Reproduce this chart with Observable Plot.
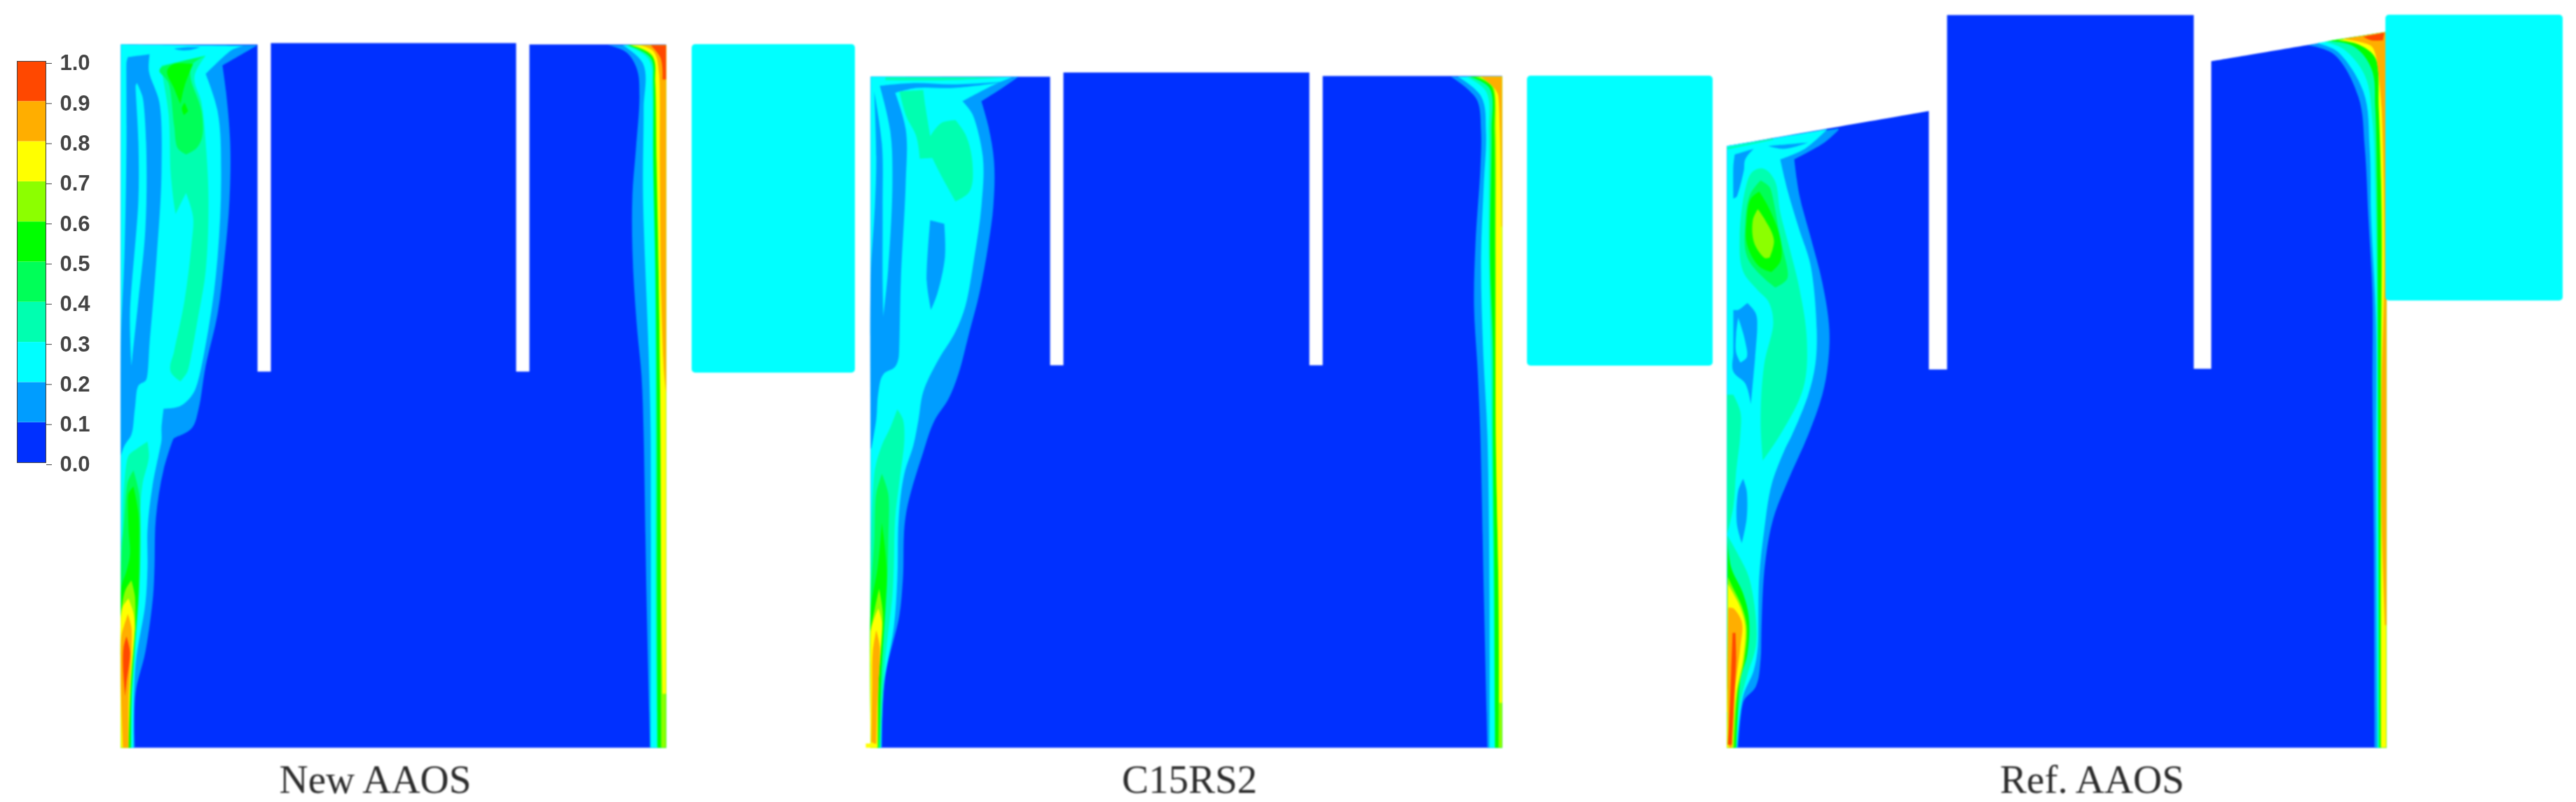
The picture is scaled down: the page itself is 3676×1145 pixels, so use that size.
<!DOCTYPE html>
<html>
<head>
<meta charset="utf-8">
<script src="https://cdn.jsdelivr.net/npm/d3@7"></script>
<script src="https://cdn.jsdelivr.net/npm/@observablehq/plot@0.6"></script>
<style>
html,body{margin:0;padding:0;background:#fff;overflow:hidden}
#chart{position:relative;width:3676px;height:1145px}
#chart svg{position:absolute;left:0;top:0;display:block;max-width:none}
</style>
</head>
<body>
<div id="chart"></div>
<script>
// Legend
const thresholds = [0.1,0.2,0.3,0.4,0.5,0.6,0.7,0.8,0.9];
const bandColors = ["#0030ff","#009dff","#00ffff","#00ffb0","#00ff58","#00ff00","#8cff00","#ffff00","#ffae00","#ff4800"];
const legendTicks = [0,0.1,0.2,0.3,0.4,0.5,0.6,0.7,0.8,0.9,1];

// Captions
const captions = ["New AAOS","C15RS2","Ref. AAOS"];
const captionX = [535,1697,2985];
const captionY = [1130,1130,1130];

// Nozzle / plenum blocks drawn beside each wall: [x1,x2,y1,y2]
const plenum = [[987,1220,63,532],[2179,2444,108,522],[3404,3657,21,429]];

// Each contour is [band value, [x,y, ...]]
const panel1 = [
 [0.05,[172,63,367,63,367,530,386,530,386,61,736,61,736,530,755,530,755,63,950,63,950,1067,172,1067]],
 [0.15,[367,64,317,93,322,130,328,203,327,285,320,367,310,448,293,522,283,583,273,611,250,624,247,626,233,670,222,739,220,809,218,850,207,930,193,989,192,1067,172,1067,172,63]],
 [0.15,[867,64,893,74,908,97,912,136,907,212,902,277,902,358,908,461,915,537,918,620,922,850,927,1067,950,1067,950,64]],
 [0.25,[172,63,347,65,330,71,293,105,310,158,315,244,310,367,297,469,277,558,257,579,233,583,230,611,230,628,217,694,210,756,210,809,207,861,193,948,190,1067,172,1067]],
 [0.25,[888,64,917,90,918,155,917,270,919,346,925,499,928,620,928,1067,950,1067,950,64]],
 [0.15,[182,81,213,77,212,101,227,146,230,244,223,367,213,489,208,542,197,550,192,583,187,620,177,636,172,650,172,489,177,367,180,203,180,89]],
 [0.15,[248,69,265,67,285,67,270,71,255,71]],
 [0.25,[195,118,203,138,208,203,207,326,197,428,187,522,185,448,197,285,197,203,193,122]],
 [0.35,[230,93,293,79,277,109,287,146,293,203,297,285,293,387,283,448,267,530,257,544,243,530,248,501,263,428,273,346,275,309,265,275,250,305,247,285,243,245,240,162,232,110]],
 [0.35,[210,630,212,652,203,690,199,739,199,809,197,861,190,930,187,1000,187,1067,172,1067,172,780,174,760,176,700,183,650,195,640]],
 [0.35,[892,64,925,84,930,130,931,230,934,384,935,620,935,850,937,1067,950,1067,950,64]],
 [0.45,[230,95,293,79,273,93,272,113,287,158,288,195,280,211,265,220,253,211,248,179,240,118,227,101]],
 [0.45,[190,671,198,704,200,774,198,843,192,930,187,1000,185,1067,172,1067,172,819,173,791,177,739,182,687]],
 [0.55,[238,101,247,91,275,91,263,122,257,148,248,126]],
 [0.55,[263,146,268,158,262,164,259,154]],
 [0.55,[190,694,197,732,198,791,197,850,189,941,186,1067,172,1067,172,850,173,836,180,815,185,791,183,756,183,704]],
 [0.55,[895,64,928,82,932,117,932,231,935,384,937,620,937,850,938,1067,950,1067,950,64]],
 [0.65,[187,828,192,850,192,895,187,965,183,1067,172,1067,172,880,178,843]],
 [0.65,[898,64,930,80,934,117,936,231,940,422,942,620,943,1067,950,1067,950,64]],
 [0.75,[183,854,190,875,192,895,185,982,183,1067,172,1067,172,880,175,865]],
 [0.75,[900,64,930,78,935,117,937,231,940,422,942,620,943,850,945,990,950,990,950,64]],
 [0.85,[182,876,187,895,187,930,183,1000,183,1067,175,1067,172,980,172,920,173,906]],
 [0.85,[913,64,932,73,940,105,941,231,943,422,947,530,950,560,950,64]],
 [0.95,[180,908,185,930,180,975,178,993,175,948,176,923]],
 [0.95,[928,64,950,64,950,113,945,113,942,82]]
];

const panel2 = [
 [0.05,[1242,109,1498,109,1498,521,1517,521,1517,103,1868,103,1868,521,1887,521,1887,108,2143,108,2143,1067,1242,1067]],
 [0.15,[1453,109,1433,123,1400,144,1410,180,1418,230,1417,294,1410,348,1397,419,1383,473,1367,534,1353,569,1333,600,1317,645,1292,736,1288,826,1283,878,1263,965,1258,1067,1242,1067,1242,109]],
 [0.15,[2070,109,2093,126,2108,144,2113,187,2112,241,2105,348,2103,437,2108,526,2112,620,2117,850,2122,1067,2143,1067,2143,109]],
 [0.25,[1242,109,1443,110,1417,121,1373,144,1387,162,1402,223,1400,294,1390,366,1377,437,1363,473,1337,516,1317,559,1310,600,1303,635,1290,676,1282,739,1280,826,1275,895,1260,982,1257,1067,1242,1067]],
 [0.25,[2080,109,2113,137,2120,187,2117,260,2113,366,2116,500,2122,620,2125,850,2125,1067,2143,1067,2143,109]],
 [0.15,[1255,122,1303,118,1360,120,1433,116,1415,119,1360,125,1307,125,1277,132,1292,184,1292,259,1285,401,1282,509,1277,523,1260,534,1253,559,1250,598,1243,640,1242,640,1242,394,1248,294,1250,223,1247,130,1258,205,1259,294,1259,401,1260,451,1267,384,1273,259,1270,187]],
 [0.15,[1327,314,1347,319,1348,366,1337,419,1328,442,1322,401]],
 [0.35,[1263,110,1437,110,1353,114,1263,114]],
 [0.35,[1283,130,1317,128,1320,151,1327,194,1343,175,1363,171,1377,191,1387,230,1383,273,1363,287,1343,251,1330,225,1312,226,1307,194,1293,166]],
 [0.35,[1280,584,1288,598,1290,628,1283,687,1277,739,1275,809,1273,850,1262,950,1256,1067,1242,1067,1242,791,1248,670,1258,635,1270,610]],
 [0.35,[2092,109,2120,130,2124,187,2124,366,2127,500,2128,620,2131,850,2133,1067,2143,1067,2143,109]],
 [0.45,[1258,676,1267,704,1267,774,1265,843,1258,948,1255,1067,1242,1067,1242,850,1247,774,1250,704]],
 [0.55,[1258,746,1265,815,1263,864,1257,965,1253,1067,1242,1067,1242,870,1252,809]],
 [0.55,[2097,109,2125,125,2128,187,2126,366,2130,500,2130,620,2132,850,2133,1067,2143,1067,2143,109]],
 [0.65,[1254,840,1259,871,1259,895,1253,982,1252,1067,1242,1067,1242,900,1248,868]],
 [0.65,[2104,109,2128,123,2132,187,2133,366,2134,620,2138,850,2138,1067,2143,1067,2143,109]],
 [0.75,[1253,868,1258,888,1253,982,1252,1067,1242,1067,1242,900,1248,880]],
 [0.75,[1235,1061,1250,1061,1250,1067,1235,1067]],
 [0.75,[2110,109,2130,122,2134,187,2134,366,2134,620,2138,850,2139,1003,2143,1003,2143,109]],
 [0.85,[1250,899,1255,923,1251,1017,1250,1062,1243,1059,1244,982,1245,930]],
 [0.85,[2113,109,2130,123,2137,134,2140,187,2142,323,2143,323,2143,109]]
];

const panel3 = [
 [0.05,[2464,208,2752,158,2752,527,2778,527,2778,21,3130,21,3130,526,3155,526,3155,87,3405,45,3405,1067,2464,1067]],
 [0.15,[2623,183,2623,185,2603,203,2560,227,2567,277,2583,337,2600,403,2610,470,2608,520,2600,563,2580,620,2550,688,2530,740,2518,807,2513,907,2512,940,2505,980,2488,1000,2480,1067,2464,1067,2464,208]],
 [0.15,[3293,64,3330,77,3365,138,3374,210,3379,306,3385,421,3385,550,3387,774,3388,1067,3405,1067,3405,45]],
 [0.25,[2464,208,2607,184,2575,212,2540,227,2550,270,2567,327,2583,377,2592,470,2590,520,2580,563,2557,620,2547,640,2528,690,2517,757,2510,823,2508,923,2502,957,2487,993,2478,1067,2464,1067]],
 [0.25,[3306,61,3335,73,3372,130,3381,210,3383,306,3390,459,3390,664,3392,1067,3405,1067,3405,45]],
 [0.15,[2523,208,2580,203,2545,212]],
 [0.15,[2475,220,2502,212,2490,227,2488,243,2478,280,2473,283,2473,237]],
 [0.15,[2473,442,2480,442,2493,432,2505,447,2507,470,2498,577,2490,547,2473,530,2473,503]],
 [0.25,[2480,453,2490,487,2492,510,2483,517,2477,503,2477,477]],
 [0.15,[2487,683,2492,700,2492,740,2485,775,2478,747,2480,700]],
 [0.35,[2464,210,2530,197,2530,199,2464,213]],
 [0.35,[2500,245,2515,240,2532,257,2540,303,2553,353,2567,410,2578,487,2573,553,2540,620,2515,657,2512,603,2517,520,2530,460,2523,430,2507,413,2487,387,2482,337,2490,270]],
 [0.35,[2464,563,2473,563,2483,587,2483,620,2477,673,2473,723,2464,763]],
 [0.35,[2464,763,2483,797,2495,823,2505,880,2505,923,2493,963,2482,1007,2477,1067,2464,1067]],
 [0.35,[3317,59,3343,69,3374,107,3385,172,3389,268,3392,459,3393,774,3393,1067,3405,1067,3405,45]],
 [0.45,[2512,257,2525,267,2540,340,2550,397,2533,410,2517,397,2493,367,2490,320,2497,277]],
 [0.55,[2510,273,2522,293,2540,340,2540,373,2527,388,2510,380,2493,350,2492,313,2498,283]],
 [0.55,[2465,773,2470,810,2487,847,2495,880,2493,933,2483,970,2477,1067,2464,1067]],
 [0.55,[3321,58,3357,65,3383,96,3389,153,3392,306,3393,550,3394,800,3395,1067,3405,1067,3405,45]],
 [0.65,[2508,298,2518,313,2531,343,2525,367,2518,368,2503,347,2501,313]],
 [0.65,[2465,823,2473,840,2485,865,2492,893,2489,940,2479,990,2474,1067,2464,1067]],
 [0.75,[2465,833,2473,847,2483,867,2490,893,2487,940,2477,990,2472,1067,2464,1067]],
 [0.75,[3335,57,3365,63,3389,82,3394,153,3398,306,3397,550,3397,1067,3405,1067,3405,45]],
 [0.85,[2466,867,2473,868,2485,887,2483,923,2473,1007,2471,1067,2467,1067,2465,1000]],
 [0.85,[3343,55,3383,65,3390,80,3398,153,3402,383,3398,550,3398,740,3403,892,3405,892,3405,45]],
 [0.95,[2472,903,2476,903,2477,940,2471,1063,2465,1063,2468,1007,2470,957]],
 [0.95,[3372,52,3402,46,3400,57,3383,57]]
];

// Long table for the line mark
const contourRows = [];
[panel1,panel2,panel3].forEach((panel,p)=>panel.forEach(([band,pts],i)=>{
  for(let k=0;k<pts.length;k+=2) contourRows.push({id:`${p}-${i}`,band,x:pts[k],y:pts[k+1]});
}));
const plenumRows = plenum.map(([x1,x2,y1,y2])=>({x1,x2,y1,y2,band:0.25}));
const captionRows = captions.map((text,i)=>({text,x:captionX[i],y:captionY[i]}));
const legendRows = legendTicks.slice(0,-1).map((lo,i)=>({lo,hi:legendTicks[i+1]}));

// A closed curve for Plot's line mark: smooth along a contour, sharp at walls and tips.
function contourCurve(context){
  let pts=[];
  return {
    areaStart(){}, areaEnd(){},
    lineStart(){pts=[];},
    point(x,y){pts.push([+x,+y]);},
    lineEnd(){
      const n=pts.length; if(!n) return;
      const seg=pts.map((p,i)=>{const b=pts[(i+1)%n];return Math.hypot(b[0]-p[0],b[1]-p[1])||1;});
      const tan=pts.map((p,i)=>{
        const a=pts[(i+n-1)%n], b=pts[(i+1)%n];
        const lu=seg[(i+n-1)%n], lv=seg[i];
        const ux=p[0]-a[0],uy=p[1]-a[1],vx=b[0]-p[0],vy=b[1]-p[1];
        const cos=(ux*vx+uy*vy)/(lu*lv);
        if(cos<0.42) return null;
        const tx=ux/lu+vx/lv, ty=uy/lu+vy/lv, l=Math.hypot(tx,ty)||1;
        return [tx/l,ty/l];
      });
      context.moveTo(pts[0][0],pts[0][1]);
      for(let i=0;i<n;i++){
        const j=(i+1)%n, p=pts[i], q=pts[j], tp=tan[i], tq=tan[j];
        const d1=0.34*Math.min(seg[i],1.5*seg[(i+n-1)%n]);
        const d2=0.34*Math.min(seg[i],1.5*seg[j]);
        const c1=tp?[p[0]+tp[0]*d1,p[1]+tp[1]*d1]:p;
        const c2=tq?[q[0]-tq[0]*d2,q[1]-tq[1]*d2]:q;
        context.bezierCurveTo(c1[0],c1[1],c2[0],c2[1],q[0],q[1]);
      }
      context.closePath();
    }
  };
}

const color = {type:"threshold",domain:thresholds,range:bandColors};

const main = Plot.plot({
  width:3676,height:1145,margin:0,
  x:{domain:[0,3676],range:[0,3676],axis:null},
  y:{domain:[0,1145],range:[0,1145],axis:null},
  color,
  style:{background:"transparent",filter:"blur(1px)"},
  marks:[
    Plot.line(contourRows,{x:"x",y:"y",z:"id",fill:"band",stroke:"none",curve:contourCurve}),
    Plot.rect(plenumRows,{x1:"x1",x2:"x2",y1:"y1",y2:"y2",fill:"band",rx:5}),
    Plot.text(captionRows,{x:"x",y:"y",text:"text",lineAnchor:"bottom",dy:1,fontSize:57,fontFamily:"Liberation Serif",fill:"#2b2b2b"})
  ]
});

const legend = Plot.plot({
  width:134,height:700,marginLeft:24,marginRight:69,marginTop:87,marginBottom:40,
  x:{domain:[0,1],axis:null},
  y:{domain:[0,1]},
  color,
  style:{background:"transparent",filter:"blur(0.7px)"},
  marks:[
    Plot.rect(legendRows,{x1:0,x2:1,y1:"lo",y2:"hi",fill:d=>(d.lo+d.hi)/2}),
    Plot.frame({stroke:"#444",strokeWidth:1}),
    Plot.axisY({anchor:"right",ticks:legendTicks,tickSize:8,tickPadding:12,tickFormat:".1f",label:null,
      fontSize:31,fontFamily:"Liberation Sans",fontWeight:"bold",fill:"#444",stroke:"#444",dy:3})
  ]
});

document.getElementById("chart").append(main,legend);
</script>
</body>
</html>
